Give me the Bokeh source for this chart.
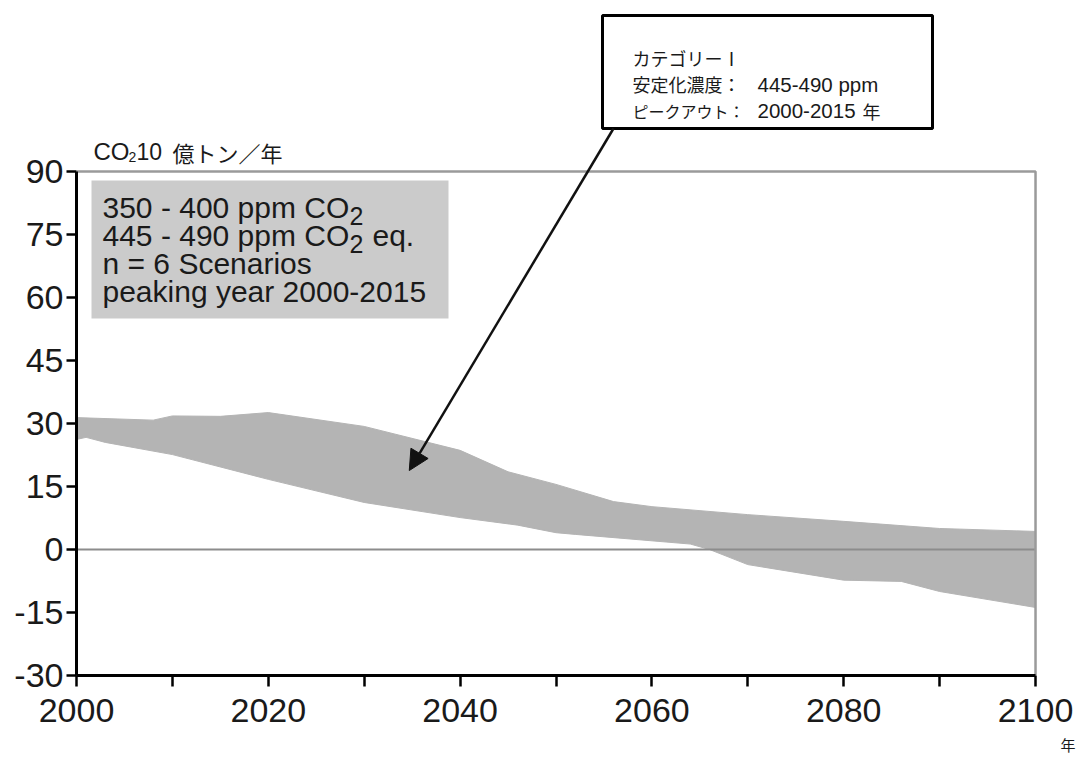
from bokeh.plotting import figure
from bokeh.models import (FixedTicker, Label, BoxAnnotation, Arrow, NormalHead, Title)
from bokeh.embed import file_html
from bokeh.resources import INLINE

# ---- data ----
upper_years = [2000, 2008, 2010, 2015, 2020, 2030, 2040, 2045, 2050, 2056, 2060, 2070, 2080, 2090, 2100]
upper_vals = [31.4, 30.8, 31.8, 31.7, 32.6, 29.3, 23.6, 18.5, 15.5, 11.4, 10.2, 8.3, 6.7, 5.0, 4.3]
lower_years = [2000, 2001, 2003, 2010, 2020, 2030, 2040, 2046, 2050, 2052, 2064, 2066, 2070, 2080, 2086, 2090, 2100]
lower_vals = [26.2, 26.7, 25.5, 22.6, 16.7, 11.2, 7.6, 5.8, 4.0, 3.6, 1.3, 0.0, -3.6, -7.3, -7.6, -10.0, -13.8]

y_ticks = [-30, -15, 0, 15, 30, 45, 60, 75, 90]
y_labels = {-30: "-30", -15: "-15"}
x_ticks = [2000, 2010, 2020, 2030, 2040, 2050, 2060, 2070, 2080, 2090, 2100]
x_labels = {2000: "2000", 2020: "2020", 2040: "2040", 2060: "2060", 2080: "2080", 2100: "2100",
            2010: "", 2030: "", 2050: "", 2070: "", 2090: ""}
x_bounds = (2000, 2100)
y_bounds = (-30, 90)

box_lines = ["350 - 400 ppm CO", "445 - 490 ppm CO", "n = 6 Scenarios", "peaking year 2000-2015"]
box_subs = ["2", "2", "", ""]
box_tails = ["", "eq.", "", ""]
callout_jp = ["カテゴリーⅠ", "安定化濃度：", "ピークアウト："]
callout_latin = ["", "445-490 ppm", "2000-2015"]
callout_tail = ["", "", "年"]
y_title_parts = ["CO", "2", "10", "億トン／年"]
x_unit = "年"

LAT = "Liberation Sans"
JP = "Noto Sans CJK JP"
TXT = "#1a1a1a"

W, H = 1080, 764
LEFT, BOTTOM = 76, 89
p = figure(width=W, height=H, output_backend="svg", toolbar_location=None,
           x_range=(2000, 2104.69), y_range=(-30, 130.71),
           min_border_left=LEFT, min_border_right=0, min_border_top=0, min_border_bottom=BOTTOM)
p.xgrid.visible = False
p.ygrid.visible = False
p.outline_line_color = None

# band
xs = list(upper_years) + list(reversed(lower_years))
ys = list(upper_vals) + list(reversed(lower_vals))
p.patch(xs, ys, fill_color="#b4b4b4", line_color="#b4b4b4", line_width=1)

# zero line and gray top/right frame
p.segment(x0=[x_bounds[0]], y0=[0], x1=[x_bounds[1]], y1=[0], line_color="#8c8c8c", line_width=2)
p.line([x_bounds[0], x_bounds[1], x_bounds[1]], [y_bounds[1], y_bounds[1], y_bounds[0]],
       line_color="#9a9a9a", line_width=2.5)

# axes
p.yaxis.ticker = FixedTicker(ticks=y_ticks)
p.yaxis.major_label_overrides = y_labels
p.xaxis.ticker = FixedTicker(ticks=x_ticks)
p.xaxis.major_label_overrides = x_labels
p.xaxis.bounds = x_bounds
p.yaxis.bounds = y_bounds
for ax in (p.xaxis, p.yaxis):
    ax.axis_line_color = "black"
    ax.axis_line_width = 3
    ax.major_tick_line_color = "black"
    ax.major_tick_line_width = 2.5
    ax.minor_tick_line_color = None
    ax.major_tick_in = 0
    ax.major_label_text_font = LAT
    ax.major_label_text_font_size = "34px"
    ax.major_label_text_color = TXT
p.yaxis.major_tick_out = 10
p.yaxis.major_label_standoff = 3
p.xaxis.major_tick_out = 11
p.xaxis.major_label_standoff = 12

# gray legend box inside plot
p.add_layout(BoxAnnotation(left=91, right=448, top=180, bottom=318,
                           left_units="canvas", right_units="canvas",
                           top_units="canvas", bottom_units="canvas",
                           fill_color="#cbcbcb", fill_alpha=1, line_color=None))
for i, (t, s, tail) in enumerate(zip(box_lines, box_subs, box_tails)):
    base = 207 + 28 * i
    p.add_layout(Label(x=102, y=base, x_units="canvas", y_units="canvas", text=t,
                       text_font=LAT, text_font_size="30px", text_color=TXT,
                       text_baseline="alphabetic", text_align="left"))
    if s:
        p.add_layout(Label(x=349, y=base + 8, x_units="canvas", y_units="canvas", text=s,
                           text_font=LAT, text_font_size="25px", text_color=TXT,
                           text_baseline="alphabetic", text_align="left"))
    if tail:
        p.add_layout(Label(x=372, y=base, x_units="canvas", y_units="canvas", text=tail,
                           text_font=LAT, text_font_size="30px", text_color=TXT,
                           text_baseline="alphabetic", text_align="left"))

# callout box
p.add_layout(BoxAnnotation(left=602, right=932, top=15, bottom=128,
                           left_units="canvas", right_units="canvas",
                           top_units="canvas", bottom_units="canvas",
                           fill_color="white", fill_alpha=1,
                           line_color="black", line_alpha=1, line_width=3))
jp_sizes = ["18px", "18px", "16px"]
for i, (jp, lat, tail) in enumerate(zip(callout_jp, callout_latin, callout_tail)):
    base = 57 + 26.5 * i
    p.add_layout(Label(x=632, y=base, x_units="canvas", y_units="canvas", text=jp,
                       text_font=JP, text_font_size=jp_sizes[i], text_color=TXT,
                       text_baseline="alphabetic", text_align="left"))
    if lat:
        p.add_layout(Label(x=757, y=base, x_units="canvas", y_units="canvas", text=lat,
                           text_font=LAT, text_font_size="20.5px", text_color=TXT,
                           text_baseline="alphabetic", text_align="left"))
    if tail:
        p.add_layout(Label(x=862, y=base, x_units="canvas", y_units="canvas", text=tail,
                           text_font=JP, text_font_size="18px", text_color=TXT,
                           text_baseline="alphabetic", text_align="left"))

# arrow
p.add_layout(Arrow(x_start=613, y_start=128, start_units="canvas",
                   x_end=2034.7, y_end=18.8, end_units="data",
                   line_color="#111111", line_width=2.5,
                   end=NormalHead(size=20, fill_color="#111111", line_color="#111111")))

# axis title
title_specs = [(93, 151, LAT, "24px"), (128, 156, LAT, "14px"), (136, 151, LAT, "23px"), (172, 151, JP, "22px")]
for txt, (tx, ty, fnt, fs) in zip(y_title_parts, title_specs):
    p.add_layout(Label(x=tx, y=ty, x_units="canvas", y_units="canvas", text=txt,
                       text_font=fnt, text_font_size=fs, text_color=TXT,
                       text_baseline="alphabetic", text_align="left"))

# unit below x-axis
p.add_layout(Title(text=x_unit, align="right", offset=5, text_font=JP, text_font_size="15px",
                   text_font_style="normal", text_color=TXT, standoff=15), "below")

open("out.html", "w").write(file_html(p, INLINE))
